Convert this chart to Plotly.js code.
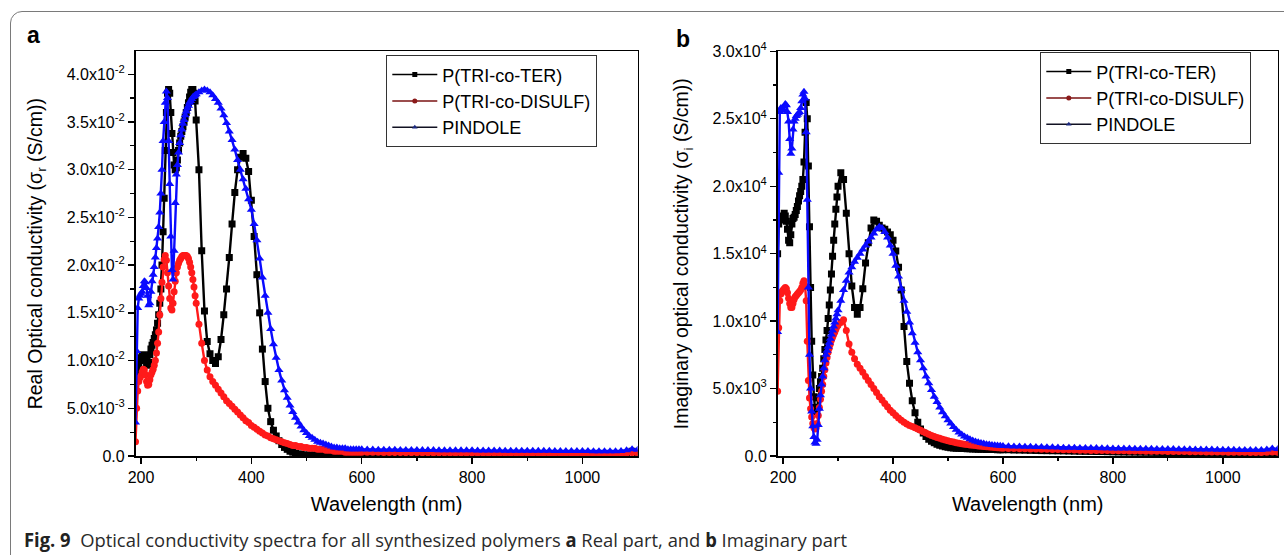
<!DOCTYPE html>
<html>
<head>
<meta charset="utf-8">
<script src="https://cdn.plot.ly/plotly-3.0.1.min.js"></script>
<style>
  html, body { margin:0; padding:0; background:#fff; width:1284px; height:555px; overflow:hidden; position:relative; }
  #frame { position:absolute; left:10px; top:11px; width:1400px; height:700px; border:1.5px solid #7a7a7a; border-radius:12px; box-sizing:border-box; }
  #chart { position:absolute; left:0; top:0; width:1284px; height:555px; }
  #caption { position:absolute; left:24px; top:527px; font-family:"Liberation Sans Narrow","Open Sans","Noto Sans",sans-serif; font-size:19px; color:#2a2a2a; white-space:nowrap; transform-origin:left center; }
  #caption b { font-weight:700; color:#222; }
</style>
</head>
<body>
<div id="frame"></div>
<div id="chart"></div>
<div id="caption"><b>Fig. 9</b>&nbsp; Optical conductivity spectra for all synthesized polymers <b>a</b> Real part, and <b>b</b> Imaginary part</div>
<script>
// ---------------- data ----------------
const seriesNames = ["P(TRI-co-TER)", "P(TRI-co-DISULF)", "PINDOLE"];

const wavelength = [
  190,192,194,196,198,200,202,204,206,208,210,212,214,216,
  218,220,222,224,226,228,230,232,234,236,238,240,242,244,
  246,248,250,252,254,256,258,260,262,264,266,268,270,272,
  274,276,278,280,282,284,286,288,290,292,294,296,298,300,
  305,310,315,320,325,330,335,340,345,350,355,360,365,370,375,
  380,385,390,395,400,405,410,415,420,425,430,435,440,445,450,
  455,460,465,470,475,480,485,490,495,500,505,510,515,520,525,
  530,535,540,545,550,555,560,565,570,575,580,585,590,595,600,
  610,620,630,640,650,660,670,680,690,700,
  710,720,730,740,750,760,770,780,790,800,
  810,820,830,840,850,860,870,880,890,900,
  910,920,930,940,950,960,970,980,990,1000,
  1010,1020,1030,1040,1050,1060,1070,1080,1090,1100
];

// (a) real optical conductivity, S/cm
const realTer = [
  0.0070,0.0088,0.0093,0.0096,0.0100,0.0103,0.0105,0.0106,0.0105,0.0101,0.0097,0.0095,0.0098,0.0106,
  0.0112,0.0116,0.0119,0.0123,0.0127,0.0132,0.0139,0.0148,0.0160,0.0175,0.0200,0.0235,0.0270,0.0320,
  0.0360,0.0380,0.0384,0.0380,0.0360,0.0338,0.0318,0.0305,0.0300,0.0302,0.0310,0.0320,0.0328,0.0335,
  0.0340,0.0345,0.0350,0.0355,0.0360,0.0365,0.0370,0.0376,0.0381,0.0384,0.0384,0.0380,0.0372,0.0352,
  0.0300,0.0215,0.0152,0.0120,0.0107,0.0100,0.0097,0.0104,0.0122,0.0148,0.0175,0.0208,0.0243,0.0276,0.0300,
  0.0313,0.0317,0.0312,0.0298,0.0268,0.0230,0.0190,0.0150,0.0112,0.0078,0.0050,0.0036,0.0027,0.0021,0.0016,
  0.0012,0.0009,0.0007,0.0005,0.0004,0.0003,0.0002,0.0002,0.0001,0.0001,0.0001,0.0001,0.0001,0.0001,0.0001,
  0.0001,0.0001,0.0001,0.0001,0.0001,0.0001,0.0001,0.0001,0.0001,0.0001,0.0001,0.0001,0.0001,0.0001,0.0001,
  0.00008,0.00008,0.00008,0.00008,0.00008,0.00008,0.00008,0.00008,0.00008,0.00008,
  0.00008,0.00008,0.00008,0.00008,0.00008,0.00008,0.00008,0.00008,0.00008,0.00008,
  0.00008,0.00008,0.00008,0.00008,0.00008,0.00008,0.00008,0.00008,0.00008,0.00008,
  0.00008,0.00008,0.00008,0.00008,0.00008,0.00008,0.00008,0.00008,0.00008,0.00008,
  0.00008,0.00008,0.00008,0.00008,0.00008,0.00008,0.0001,0.0003,0.0005,0.0003
];
const realDisulf = [
  0.0015,0.0050,0.0068,0.0078,0.0082,0.0084,0.0088,0.0091,0.0090,0.0085,0.0078,0.0074,0.0075,0.0080,
  0.0085,0.0088,0.0091,0.0095,0.0100,0.0108,0.0118,0.0130,0.0148,0.0165,0.0182,0.0198,0.0206,0.0210,
  0.0205,0.0192,0.0178,0.0165,0.0155,0.0153,0.0160,0.0172,0.0183,0.0192,0.0198,0.0202,0.0205,0.0207,
  0.0209,0.0210,0.0210,0.0210,0.0210,0.0209,0.0207,0.0203,0.0198,0.0192,0.0185,0.0177,0.0168,0.0160,
  0.0138,0.0118,0.0100,0.0090,0.0083,0.0078,0.0074,0.0070,0.0066,0.0062,0.0058,0.0055,0.0052,0.0049,0.0046,
  0.0043,0.0040,0.0037,0.0035,0.0032,0.0030,0.0028,0.0026,0.0024,0.0022,0.0021,0.0019,0.0018,0.0017,0.0016,
  0.0015,0.0014,0.0013,0.0012,0.0011,0.0011,0.0010,0.0010,0.0009,0.0009,0.0008,0.0008,0.0008,0.0007,0.0007,
  0.0007,0.0006,0.0006,0.0006,0.0005,0.0005,0.0005,0.0005,0.0004,0.0004,0.0004,0.0004,0.0004,0.0004,0.0004,
  0.00039,0.00038,0.00038,0.00037,0.00037,0.00036,0.00036,0.00035,0.00035,0.00035,
  0.00034,0.00034,0.00033,0.00033,0.00033,0.00032,0.00032,0.00032,0.00031,0.00031,
  0.00031,0.00030,0.00030,0.00030,0.00030,0.00029,0.00029,0.00029,0.00029,0.00028,
  0.00028,0.00028,0.00028,0.00027,0.00027,0.00027,0.00027,0.00027,0.00026,0.00026,
  0.00026,0.00026,0.00026,0.00026,0.00025,0.00025,0.00026,0.00030,0.00035,0.00032
];
const realPindole = [
  0.0035,0.0110,0.0155,0.0165,0.0168,0.0170,0.0172,0.0178,0.0183,0.0182,0.0176,0.0168,0.0158,0.0160,
  0.0172,0.0183,0.0190,0.0198,0.0208,0.0218,0.0228,0.0240,0.0255,0.0275,0.0300,0.0330,0.0350,0.0370,
  0.0382,0.0375,0.0330,0.0285,0.0230,0.0195,0.0185,0.0215,0.0265,0.0295,0.0305,0.0318,0.0328,0.0336,
  0.0342,0.0348,0.0352,0.0357,0.0361,0.0364,0.0367,0.0370,0.0372,0.0374,0.0376,0.0377,0.0378,0.0379,
  0.0381,0.0383,0.0384,0.0383,0.0381,0.0378,0.0374,0.0370,0.0364,0.0357,0.0349,0.0340,0.0331,0.0321,0.0310,
  0.0300,0.0290,0.0280,0.0269,0.0258,0.0243,0.0226,0.0207,0.0187,0.0168,0.0150,0.0133,0.0117,0.0103,0.0090,
  0.0079,0.0069,0.0061,0.0053,0.0046,0.0040,0.0035,0.0031,0.0027,0.0024,0.0021,0.0019,0.0017,0.0015,0.0014,
  0.0013,0.0012,0.0011,0.0010,0.0009,0.0009,0.0008,0.0008,0.0008,0.0007,0.0007,0.0007,0.0007,0.0007,0.0007,
  0.00068,0.00067,0.00066,0.00066,0.00065,0.00065,0.00064,0.00064,0.00063,0.00063,
  0.00062,0.00062,0.00062,0.00061,0.00061,0.00060,0.00060,0.00060,0.00059,0.00059,
  0.00058,0.00058,0.00058,0.00057,0.00057,0.00056,0.00056,0.00056,0.00055,0.00055,
  0.00055,0.00054,0.00054,0.00054,0.00053,0.00053,0.00053,0.00052,0.00052,0.00052,
  0.00052,0.00051,0.00051,0.00051,0.00050,0.00050,0.00052,0.00060,0.00070,0.00065
];

// (b) imaginary optical conductivity, S/cm
const imagTer = [
  15000,17200,17600,17500,17600,17800,18000,17800,17400,16800,16000,15800,16400,17200,
  17600,17700,17900,18200,18500,18900,19300,19600,20000,20500,21800,24000,26200,25000,
  21500,17000,12500,8500,6000,4400,3600,3300,3600,4300,5000,5500,5900,6500,
  7200,7900,8600,9300,10200,11200,12300,13500,14800,16000,17200,18300,19200,20000,
  21000,20500,18000,15000,12600,11000,10500,11000,12400,14300,15800,16900,17500,17400,17100,
  16900,16800,16600,16400,16000,15200,14000,12300,9600,7000,5400,4100,3200,2500,2000,
  1700,1450,1250,1100,980,880,800,740,690,650,620,600,580,570,560,
  550,540,530,520,510,505,500,495,490,485,480,475,470,465,460,
  455,450,440,430,420,410,400,395,390,385,
  380,370,360,350,345,340,335,330,320,310,
  300,295,290,285,280,275,270,265,260,255,
  250,245,240,235,230,225,220,215,210,205,
  200,200,195,195,190,190,190,200,230,210
];
const imagDisulf = [
  4800,9500,11500,12000,12200,12300,12400,12500,12400,12100,11700,11300,11000,11000,
  11300,11600,11800,11900,12000,12100,12200,12300,12500,12800,13000,12600,11500,8500,
  5600,4300,3500,2900,2400,2100,2000,2100,2400,3000,3600,4200,4800,5300,
  5900,6400,6900,7300,7700,8000,8300,8600,8800,9000,9200,9400,9600,9700,
  9900,10100,9300,8300,7700,7200,6800,6500,6200,5900,5600,5300,5000,4700,4400,
  4150,3900,3650,3400,3200,3000,2820,2650,2500,2380,2270,2180,2100,2000,1900,
  1800,1700,1610,1520,1450,1380,1310,1250,1190,1130,1080,1030,990,950,910,
  880,850,820,790,770,740,720,700,680,660,640,625,610,595,580,
  565,555,545,535,525,515,505,495,485,475,
  465,455,445,435,425,415,410,405,400,390,
  385,380,375,370,365,360,355,350,345,340,
  335,330,325,320,315,310,305,300,295,290,
  285,280,275,270,265,260,260,270,300,280
];
const imagPindole = [
  9200,21000,25500,25800,25600,25700,25900,26100,26000,25500,24800,23500,22400,22800,
  24200,24800,25000,25200,25300,25400,25500,25800,26300,26800,27000,26500,24000,19000,
  12500,7500,5000,3300,2200,1400,1000,900,1200,2300,3500,4500,5300,5900,
  6500,7100,7500,7800,8100,8400,8700,9000,9300,9600,9900,10200,10500,10800,
  11500,12300,13000,13600,14000,14400,14700,15000,15300,15600,15900,16200,16500,16800,17000,
  16900,16600,16200,15600,15000,14100,13300,12400,11500,10700,9900,9100,8400,7700,7100,
  6500,5900,5400,4900,4400,4000,3600,3250,2950,2650,2400,2150,1950,1750,1600,
  1450,1350,1250,1150,1080,1020,970,920,880,850,820,800,780,760,740,
  725,710,700,690,680,670,660,650,640,630,
  620,615,610,600,595,590,585,580,570,565,
  560,555,550,545,540,535,530,525,520,515,
  510,505,500,495,490,485,480,475,470,465,
  460,455,450,450,445,445,450,480,560,520
];

// tick labels
const xTickVals = [200, 400, 600, 800, 1000];
const xMinorVals = [300, 500, 700, 900];
const realTickVals = [0, 0.005, 0.010, 0.015, 0.020, 0.025, 0.030, 0.035, 0.040];
const realTickText = ["0.0", "5.0x10<sup>-3</sup>", "1.0x10<sup>-2</sup>", "1.5x10<sup>-2</sup>", "2.0x10<sup>-2</sup>",
                      "2.5x10<sup>-2</sup>", "3.0x10<sup>-2</sup>", "3.5x10<sup>-2</sup>", "4.0x10<sup>-2</sup>"];
const realMinorVals = [0.0025, 0.0075, 0.0125, 0.0175, 0.0225, 0.0275, 0.0325, 0.0375];
const imagTickVals = [0, 5000, 10000, 15000, 20000, 25000, 30000];
const imagTickText = ["0.0", "5.0x10<sup>3</sup>", "1.0x10<sup>4</sup>", "1.5x10<sup>4</sup>",
                      "2.0x10<sup>4</sup>", "2.5x10<sup>4</sup>", "3.0x10<sup>4</sup>"];
const imagMinorVals = [2500, 7500, 12500, 17500, 22500, 27500];

// ---------------- styles ----------------
const W = 1284, H = 555;
const FONT = "Liberation Sans, Arial, Helvetica, sans-serif";
const curveStyle = [
  {color: "#000000", symbol: "square", size: 7},
  {color: "#ff1a1a", symbol: "circle", size: 7},
  {color: "#0a0aff", symbol: "triangle-up", size: 8}
];
const legendStyle = [
  {line: "#000000", marker: "#000000", symbol: "square"},
  {line: "#7a1212", marker: "#8b1a1a", symbol: "circle"},
  {line: "#111122", marker: "#1c2a80", symbol: "triangle-up"}
];

function curve(x, y, i, xa, ya) {
  return {
    type: "scatter", mode: "lines+markers", x: x, y: y, name: seriesNames[i],
    xaxis: xa, yaxis: ya, showlegend: false, hoverinfo: "skip",
    line: {color: curveStyle[i].color, width: 2.4},
    marker: {color: curveStyle[i].color, symbol: curveStyle[i].symbol, size: curveStyle[i].size, line: {width: 0}}
  };
}
function legendItem(i, xa, ya, lg) {
  return {
    type: "scatter", mode: "lines+markers", x: [null], y: [null], name: seriesNames[i],
    xaxis: xa, yaxis: ya, legend: lg, showlegend: true, hoverinfo: "skip",
    line: {color: legendStyle[i].line, width: 1.5},
    marker: {color: legendStyle[i].marker, symbol: legendStyle[i].symbol, size: 5}
  };
}

const data = [
  curve(wavelength, realTer, 0, "x", "y"),
  curve(wavelength, realDisulf, 1, "x", "y"),
  curve(wavelength, realPindole, 2, "x", "y"),
  curve(wavelength, imagTer, 0, "x2", "y2"),
  curve(wavelength, imagDisulf, 1, "x2", "y2"),
  curve(wavelength, imagPindole, 2, "x2", "y2"),
  legendItem(0, "x", "y", "legend"),
  legendItem(1, "x", "y", "legend"),
  legendItem(2, "x", "y", "legend"),
  legendItem(0, "x2", "y2", "legend2"),
  legendItem(1, "x2", "y2", "legend2"),
  legendItem(2, "x2", "y2", "legend2")
];

const yDom = [1 - 456 / H, 1 - 51.3 / H];
function xAxis(domain, anchor) {
  return {
    domain: domain, anchor: anchor, range: [190, 1100],
    tickmode: "array", tickvals: xTickVals, ticks: "outside", ticklen: 6, tickwidth: 1.4, tickcolor: "#000",
    minor: {tickmode: "array", tickvals: xMinorVals, ticks: "outside", ticklen: 3.5, tickwidth: 1.2, tickcolor: "#000", showgrid: false},
    showline: true, linewidth: 1.6, linecolor: "#000", mirror: true,
    showgrid: false, zeroline: false,
    tickfont: {family: FONT, size: 16, color: "#000"},
    title: {text: "Wavelength (nm)", font: {family: FONT, size: 20, color: "#000"}, standoff: 12}
  };
}
function yAxis(anchor, range, vals, text, minor, title, standoff) {
  return {
    domain: yDom, anchor: anchor, range: range,
    tickmode: "array", tickvals: vals, ticktext: text, ticks: "outside", ticklen: 6, tickwidth: 1.4, tickcolor: "#000",
    minor: {tickmode: "array", tickvals: minor, ticks: "outside", ticklen: 3.5, tickwidth: 1.2, tickcolor: "#000", showgrid: false},
    showline: true, linewidth: 1.6, linecolor: "#000", mirror: true,
    showgrid: false, zeroline: false,
    tickfont: {family: FONT, size: 16, color: "#000"},
    title: {text: title, font: {family: FONT, size: 19.5, color: "#000"}, standoff: standoff}
  };
}

const legendCommon = {
  xanchor: "left", yanchor: "top", bgcolor: "#ffffff", bordercolor: "#333", borderwidth: 1.3,
  font: {family: FONT, size: 18, color: "#000"}, tracegroupgap: 0, itemwidth: 45
};

const layout = {
  width: W, height: H,
  margin: {l: 0, r: 0, t: 0, b: 0},
  paper_bgcolor: "rgba(0,0,0,0)", plot_bgcolor: "#ffffff",
  font: {family: FONT, color: "#000"},
  xaxis: xAxis([135.5 / W, 637.6 / W], "y"),
  yaxis: yAxis("x", [0, 0.0424], realTickVals, realTickText, realMinorVals,
               "Real Optical conductivity (σ<sub>r</sub> (S/cm))", 19),
  xaxis2: xAxis([777.6 / W, 1277.8 / W], "y2"),
  yaxis2: yAxis("x2", [0, 30000], imagTickVals, imagTickText, imagMinorVals,
               "Imaginary optical conductivity (σ<sub>i</sub> (S/cm))", 18),
  legend: Object.assign({x: 386 / W, y: 1 - 55 / H}, legendCommon),
  legend2: Object.assign({x: 1040 / W, y: 1 - 52 / H}, legendCommon),
  annotations: [
    {text: "<b>a</b>", xref: "paper", yref: "paper", x: 33 / W, y: 1 - 35 / H, xanchor: "center", yanchor: "middle",
     showarrow: false, font: {family: FONT, size: 23, color: "#000"}},
    {text: "<b>b</b>", xref: "paper", yref: "paper", x: 683 / W, y: 1 - 39 / H, xanchor: "center", yanchor: "middle",
     showarrow: false, font: {family: FONT, size: 23, color: "#000"}}
  ]
};

Plotly.newPlot("chart", data, layout, {staticPlot: true, displayModeBar: false}).then(function () {
  const cap = document.getElementById("caption");
  const w = cap.getBoundingClientRect().width;
  const target = 823;
  if (w > 0) cap.style.transform = "scaleX(" + (target / w).toFixed(4) + ")";
});
</script>
</body>
</html>
